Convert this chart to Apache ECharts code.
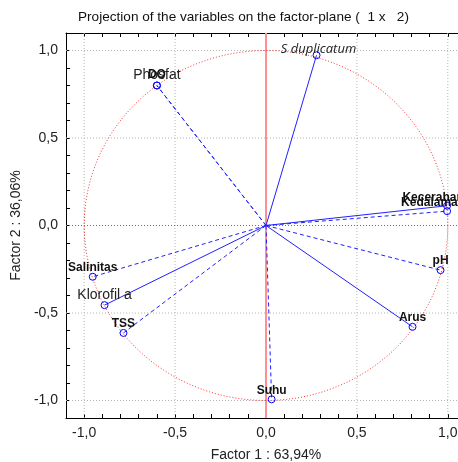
<!DOCTYPE html>
<html style="height: 100%">
<head>
    <meta charset="utf-8">
    <title>Projection of the variables on the factor-plane</title>
    <script type="text/javascript" src="https://cdn.jsdelivr.net/npm/echarts@6/dist/echarts.min.js"></script>
</head>
<body style="height: 100%; margin: 0; background: #fff">
    <div id="container" style="width: 458px; height: 462px"></div>
    <script type="text/javascript">
        // variables and their loadings on factor 1 / factor 2
        var varNames = ['S duplicatum', 'Phosfat', 'DO', 'Kecerahan', 'Kedalaman', 'pH', 'Arus', 'Suhu', 'TSS', 'Klorofil a', 'Salinitas'];
        var factor1 = [0.278, -0.600, -0.600, 0.996, 0.996, 0.960, 0.806, 0.031, -0.784, -0.888, -0.953];
        var factor2 = [0.973, 0.800, 0.800, 0.113, 0.082, -0.255, -0.579, -0.993, -0.614, -0.455, -0.293];
        var gridValues = [-1.0, -0.5, 0.5, 1.0];

        // styles per variable
        var solidNames = ['S duplicatum', 'Klorofil a', 'Arus', 'Kecerahan'];
        var boldNames = ['DO', 'Kecerahan', 'Kedalaman', 'pH', 'Arus', 'Suhu', 'TSS', 'Salinitas'];
        var labelShift = { 'Kecerahan': [-14, 1], 'Kedalaman': [-14, 1], 'DO': [0, -2], 'S duplicatum': [2, 4] };

        function fmt(v) {
            var k = Math.round(v * 10);
            if (k % 5 !== 0) return '';
            return (k / 10).toFixed(1).replace('.', ',');
        }

        function labelStyle(name) {
            if (name === 'S duplicatum') {
                return { fontFamily: 'Open Sans', fontStyle: 'italic', fontSize: 13, color: '#222' };
            }
            if (boldNames.indexOf(name) >= 0) {
                return { fontFamily: 'Liberation Sans', fontWeight: 'bold', fontSize: 12, color: '#111' };
            }
            return { fontFamily: 'Liberation Sans', fontSize: 14, color: '#222' };
        }

        // unit circle (reference shape)
        var circle = [];
        for (var a = 0; a <= 360; a += 2) {
            circle.push([Math.cos(a * Math.PI / 180), Math.sin(a * Math.PI / 180)]);
        }

        var series = [
            {
                type: 'line',
                data: circle,
                showSymbol: false,
                silent: true,
                z: 1,
                lineStyle: { color: '#ff3030', width: 1, type: [1, 2] },
                markLine: {
                    silent: true,
                    z: 1,
                    symbol: 'none',
                    label: { show: false },
                    data: [
                        { xAxis: 0, lineStyle: { color: '#ff9090', width: 2, type: 'solid' } },
                        { yAxis: 0, lineStyle: { color: '#ff3030', width: 1, type: [1, 2] } }
                    ]
                }
            }
        ];

        // light dotted grid at the labelled ticks
        gridValues.forEach(function (v) {
            series.push({
                type: 'line', silent: true, z: 0, showSymbol: false,
                lineStyle: { color: '#b4b4b4', width: 1, type: [1, 2] },
                data: [[v, -1.1], [v, 1.1]]
            });
            series.push({
                type: 'line', silent: true, z: 0, showSymbol: false,
                lineStyle: { color: '#b4b4b4', width: 1, type: [1, 2] },
                data: [[-1.1, v], [1.1, v]]
            });
        });

        for (var i = 0; i < varNames.length; i++) {
            var name = varNames[i];
            var ls = labelStyle(name);
            series.push({
                name: name,
                type: 'line',
                z: 3,
                symbol: 'circle',
                symbolSize: 7,
                itemStyle: { color: 'rgba(0,0,0,0)', borderColor: '#0000ff', borderWidth: 1 },
                lineStyle: {
                    color: '#2020ff',
                    width: 1,
                    type: solidNames.indexOf(name) >= 0 ? 'solid' : [4, 3]
                },
                data: [
                    { value: [0, 0], symbol: 'none' },
                    {
                        value: [factor1[i], factor2[i]],
                        label: {
                            show: true,
                            position: 'top',
                            distance: -1,
                            offset: labelShift[name] || [0, 0],
                            formatter: name,
                            fontFamily: ls.fontFamily,
                            fontStyle: ls.fontStyle || 'normal',
                            fontWeight: ls.fontWeight || 'normal',
                            fontSize: ls.fontSize,
                            color: ls.color
                        }
                    }
                ]
            });
        }

        var axisCommon = {
            type: 'value',
            min: -1.1,
            max: 1.1,
            interval: 0.1,
            axisLine: { show: true, onZero: false, lineStyle: { color: '#000', width: 1 } },
            axisTick: { show: true, inside: true, length: 4, lineStyle: { color: '#000' } },
            splitLine: { show: false }
        };

        var dom = document.getElementById('container');
        var myChart = echarts.init(dom, null, { renderer: 'canvas' });

        var option = {
            animation: false,
            backgroundColor: '#fff',
            title: {
                text: 'Projection of the variables on the factor-plane (  1 x   2)',
                left: 73,
                top: 5,
                textStyle: { fontFamily: 'Liberation Sans', fontSize: 13.6, fontWeight: 'normal', color: '#111' }
            },
            grid: { left: 66, top: 33, width: 400, height: 385, outerBoundsMode: 'none', containLabel: false },
            xAxis: [
                Object.assign({}, axisCommon, {
                    position: 'bottom',
                    name: 'Factor 1 : 63,94%',
                    nameLocation: 'middle',
                    nameGap: 30,
                    nameTextStyle: { fontFamily: 'Liberation Sans', fontSize: 14, color: '#222' },
                    axisLabel: { formatter: fmt, margin: 8, fontFamily: 'Liberation Sans', fontSize: 14, color: '#222', showMinLabel: false, showMaxLabel: false }
                }),
                Object.assign({}, axisCommon, {
                    position: 'top',
                    axisLabel: { show: false }
                })
            ],
            yAxis: [
                Object.assign({}, axisCommon, {
                    position: 'left',
                    name: 'Factor 2 : 36,06%',
                    nameLocation: 'middle',
                    nameGap: 42,
                    nameTextStyle: { fontFamily: 'Liberation Sans', fontSize: 14, color: '#222' },
                    axisLabel: { formatter: fmt, margin: 8, fontFamily: 'Liberation Sans', fontSize: 14, color: '#222', showMinLabel: false, showMaxLabel: false }
                }),
                Object.assign({}, axisCommon, {
                    position: 'right',
                    axisLabel: { show: false }
                })
            ],
            series: series
        };

        if (option && typeof option === 'object') {
            myChart.setOption(option, true);
        }
    </script>
</body>
</html>
